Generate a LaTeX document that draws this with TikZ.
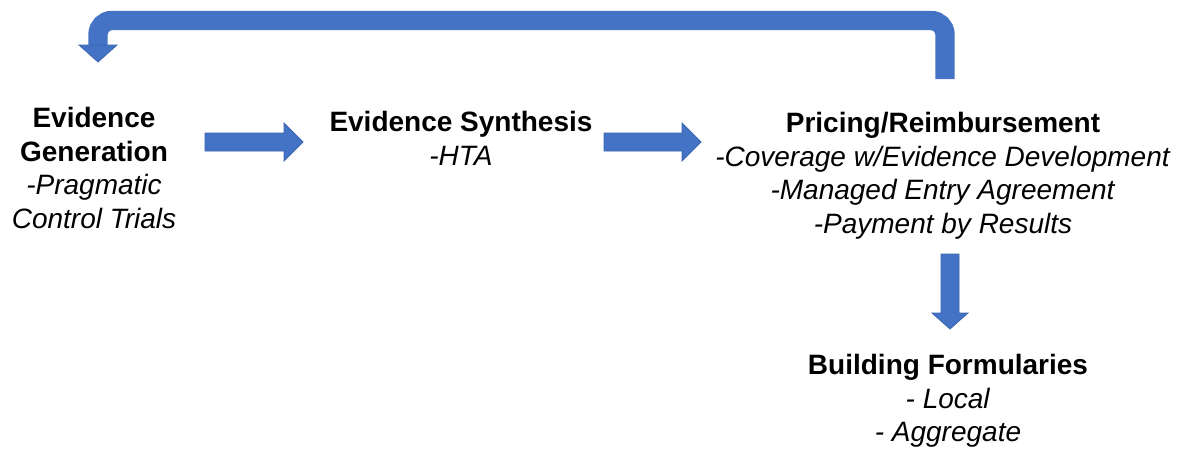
\documentclass[tikz,border=0pt]{standalone}
\usepackage{fontspec}
\setmainfont{Liberation Sans}
\definecolor{arrowblue}{HTML}{4472C4}
\definecolor{arrowedge}{HTML}{3B65B0}
\begin{document}
\begin{tikzpicture}[x=0.5pt,y=-0.5pt,
  blockarrow/.style={fill=arrowblue,draw=arrowedge,line width=0.4pt,line join=miter},
  label/.style={align=center,font=\fontsize{14}{16.75}\selectfont,inner sep=0pt}]
\useasboundingbox (0,0) rectangle (1189,450);
% text blocks
\node[label] (gen) at (94,168) {\textbf{Evidence}\\\textbf{Generation}\\\textit{-Pragmatic}\\\textit{Control Trials}};
\node[label] (syn) at (461,138.5) {\textbf{Evidence Synthesis}\\\textit{-HTA}};
\node[label] (pri) at (943,176) {\textbf{Pricing/Reimbursement}\\\textit{-Coverage w/Evidence Development}\\\textit{-Managed Entry Agreement}\\\textit{-Payment by Results}};
\node[label] (bui) at (948,401) {\textbf{Building Formularies}\\\textit{- Local}\\\textit{- Aggregate}};
% straight block arrows
\path[blockarrow] (205,133) -- (284,133) -- (284,123) -- (303,142) -- (284,161) -- (284,151) -- (205,151) -- cycle;
\path[blockarrow] (604,133) -- (682,133) -- (682,123) -- (701,142) -- (682,161) -- (682,151) -- (604,151) -- cycle;
\path[blockarrow] (941,254) -- (959,254) -- (959,313) -- (968,313) -- (950,329) -- (932,313) -- (941,313) -- cycle;
% loop arrow
\coordinate (loopstart) at (945,79);
\coordinate (loopend) at (98,46);
\draw[arrowblue,line width=9.7pt,rounded corners=7pt] (loopstart) -- (945,20.5) -- (98,20.5) -- (loopend);
\path[blockarrow] (79,45) -- (117,45) -- (98,62) -- cycle;
\end{tikzpicture}
\end{document}
